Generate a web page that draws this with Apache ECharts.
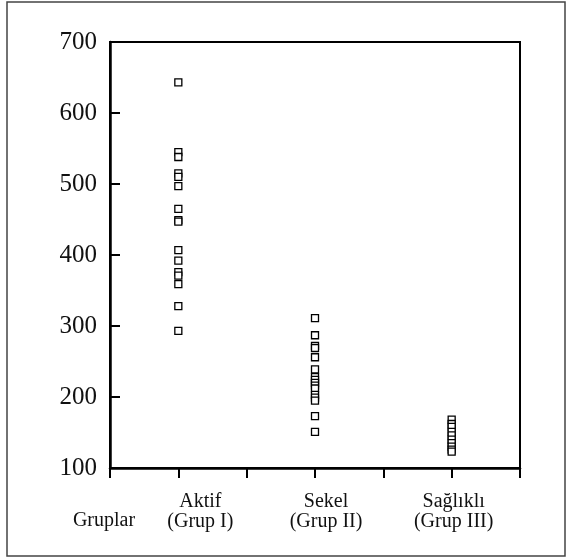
<!DOCTYPE html>
<html>
<head>
<meta charset="utf-8">
<script src="https://cdn.jsdelivr.net/npm/echarts@6/dist/echarts.min.js"></script>
<style>
html,body{margin:0;padding:0;background:#fff;}
#chart{width:569px;height:557px;}
</style>
</head>
<body>
<div id="chart"></div>
<script>
// Category labels and their positions on the x scale
const categories = ['Aktif\n(Grup I)', 'Sekel\n(Grup II)', 'Sağlıklı\n(Grup III)'];
const categoryPos = [1, 3, 5];
const axisTitle = 'Gruplar';
const yTicks = [100, 200, 300, 400, 500, 600, 700];

// Values
const aktif = [643, 545, 538, 515, 510, 497, 465, 449, 447, 407, 392, 376, 371, 359, 328, 293];
const sekel = [311, 287, 272, 269, 256, 239, 228, 224, 220, 216, 212, 203, 199, 195, 173, 151];
const saglikli = [168, 162, 158, 151, 146, 140, 135, 130, 126, 123];

const groups = [aktif, sekel, saglikli];
const points = [];
groups.forEach((g, i) => g.forEach(v => points.push([categoryPos[i], v])));

// label horizontal offsets (px) relative to the category tick, as in the reference
const labelShift = [22, 11, 2];

const chart = echarts.init(document.getElementById('chart'), null, {renderer: 'canvas'});
const serif = 'Liberation Serif, Times New Roman, serif';
chart.setOption({
  animation: false,
  backgroundColor: '#fff',
  grid: {left: 110, right: 49, top: 42, bottom: 89, show: true, borderColor: '#000', borderWidth: 2, backgroundColor: 'transparent'},
  xAxis: {
    type: 'value', min: 0, max: 6, interval: 1,
    axisLine: {show: true, lineStyle: {color: '#000', width: 2.5}},
    axisTick: {show: true, inside: false, length: 10, lineStyle: {color: '#000', width: 2}},
    splitLine: {show: false},
    axisLabel: {show: false}
  },
  yAxis: {
    type: 'value', min: yTicks[0], max: yTicks[yTicks.length - 1], interval: 100,
    axisLine: {show: true, lineStyle: {color: '#000', width: 2.5}},
    axisTick: {show: true, inside: true, length: 10, lineStyle: {color: '#000', width: 2}},
    splitLine: {show: false},
    axisLabel: {margin: 13, color: '#111', fontFamily: serif, fontSize: 25}
  },
  series: [{
    type: 'scatter',
    data: points,
    symbol: 'rect',
    symbolSize: 7,
    itemStyle: {color: '#fff', borderColor: '#000', borderWidth: 1.3, opacity: 1}
  }]
});

const graphics = [
  {type: 'rect', shape: {x: 7, y: 2, width: 558, height: 554}, style: {fill: 'none', stroke: '#444', lineWidth: 1.5}, silent: true},
  {type: 'text', x: 104, y: 521, style: {text: axisTitle, font: '20px ' + serif, fill: '#111', align: 'center', verticalAlign: 'middle'}}
];
categories.forEach((c, i) => {
  const px = chart.convertToPixel({gridIndex: 0}, [categoryPos[i], yTicks[0]]);
  graphics.push({
    type: 'text', x: px[0] + labelShift[i], y: px[1] + 24,
    style: {text: c, font: '20px ' + serif, fill: '#111', align: 'center', verticalAlign: 'top', lineHeight: 20}
  });
});
chart.setOption({graphic: graphics});
</script>
</body>
</html>
